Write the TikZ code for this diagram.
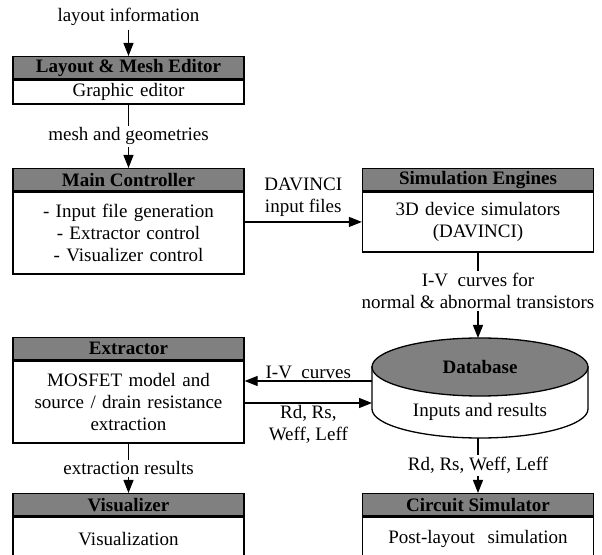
\documentclass[tikz,border=0pt]{standalone}
\usepackage{fontspec}
\setmainfont{Liberation Serif}
\usetikzlibrary{arrows.meta,positioning}
\newcommand\boxfont{\fontsize{19}{22}\selectfont}

\begin{document}
\begin{tikzpicture}[x=1pt, y=1pt, line width=1.3pt,
        every node/.style={font=\boxfont},
        head/.style={draw, fill=black!50, font=\boxfont\bfseries, minimum width=231pt, minimum height=22pt, inner sep=1pt, anchor=north},
        body/.style={draw, fill=white, text width=225pt, align=center, minimum width=231pt, inner sep=1pt},
        lbl/.style={align=center, inner sep=2pt},
        flow/.style={-{Triangle[length=13pt, width=10pt]}}]
        \useasboundingbox (0,0) rectangle (602,554);

        % Left column: editor, controller, extractor, visualizer
        \node (li) at (128.5,537) {layout information};
        \node[head] (lme) at (128.5,498) {Layout \& Mesh Editor};
        \node[body, below=0pt of lme, minimum height=24pt] (lme-body) {Graphic editor};
        \node[head] (mc) at (128.5,386) {Main Controller};
        \node[body, below=0pt of mc, minimum height=82pt] (mc-body) {- Input file generation\\- Extractor control\\- Visualizer control};
        \node[head] (ext) at (128.5,217) {Extractor};
        \node[body, below=0pt of ext, minimum height=82pt] (ext-body) {MOSFET model and\\source / drain resistance\\extraction};
        \node[head] (vis) at (128.5,61) {Visualizer};
        \node[body, below=0pt of vis, minimum height=45pt] (vis-body) {Visualization};

        % Right column: engines, database, circuit simulator
        \node[head] (sim) at (478,386) {Simulation Engines};
        \node[body, below=0pt of sim, minimum height=60pt] (sim-body) {3D device simulators\\(DAVINCI)};
        \node[head] (cs) at (478,61) {Circuit Simulator};
        \node[body, below=0pt of cs, minimum height=45pt] (cs-body) {Post-layout~~simulation};

        % Database cylinder
        \coordinate (db) at (480,187);
        \filldraw[fill=white] (372,187) -- (372,145) arc[start angle=180, end angle=360, x radius=108, y radius=29] -- (588,187) -- cycle;
        \filldraw[fill=black!50] (db) ellipse[x radius=108, y radius=29];
        \node[font=\boxfont\bfseries] (db-name) at (db) {Database};
        \node (db-text) at (480,142) {Inputs and results};
        \coordinate (db-n) at (478,216); \coordinate (db-s) at (478,116);
        \coordinate (db-w1) at (372,173); \coordinate (db-w2) at (372,151);

        % Data flow
        \draw[flow] (li) -- (lme);
        \draw[flow] (lme-body) -- node[lbl, fill=white] {mesh and geometries} (mc);
        \draw[flow] (mc-body.east |- sim-body.west) -- node[lbl, above=3pt] {DAVINCI\\input files} (sim-body.west);
        \draw[flow] (sim-body) -- node[lbl, fill=white, pos=0.45] {I-V~~curves for\\normal \& abnormal transistors} (db-n);
        \draw[flow] (db-w1) -- node[lbl, above] {I-V~~curves} (ext-body.east |- db-w1);
        \draw[flow] (ext-body.east |- db-w2) -- node[lbl, below] {Rd, Rs,\\Weff, Leff} (db-w2);
        \draw[flow] (ext-body) -- node[lbl, fill=white] {extraction results} (vis);
        \draw[flow] (db-s) -- node[lbl, fill=white] {Rd, Rs, Weff, Leff} (cs);
    \end{tikzpicture}
\end{document}
